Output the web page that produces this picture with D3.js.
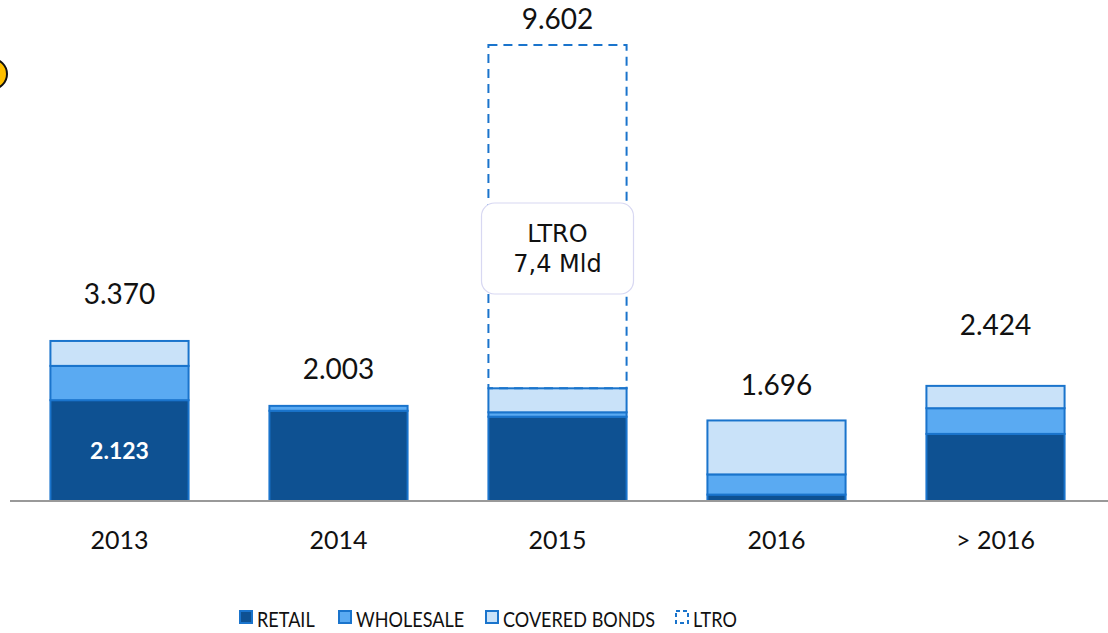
<!DOCTYPE html>
<html>
<head>
<meta charset="utf-8">
<script src="https://cdn.jsdelivr.net/npm/d3@7"></script>
<style>
  body { margin: 0; background: #fff; }
  svg { display: block; }
</style>
</head>
<body>
<div id="chart"></div>
<script>
const years = ["2013", "2014", "2015", "2016", "> 2016"];
const totalLabels = ["3.370", "2.003", "9.602", "1.696", "2.424"];
const retail = [2123, 1900, 1775, 135, 1413];
const wholesale = [722, 103, 93, 425, 541];
const covered = [525, 0, 505, 1136, 470];
const ltro = [0, 0, 7229, 0, 0];
const seriesNames = ["RETAIL", "WHOLESALE", "COVERED BONDS", "LTRO"];

const W = 1108, H = 633;
const baseY = 501;
const colors = { retail: "#0e5192", wholesale: "#5aaaf2", covered: "#c9e2f9" };
const edge = "#1a74cc";
// gap between bar top and its total label (labels were placed by hand in the original)
const labelGap = [37, 27, 16, 25, 51];

const svg = d3.select("#chart").append("svg").attr("width", W).attr("height", H);

const x = d3.scaleBand().domain(years).range([10, 1105]).paddingInner(0.36).paddingOuter(0.18);
const y = d3.scaleLinear().domain([0, 9602]).range([baseY, 45]);

const rows = years.map((yr, i) => ({ yr, i, retail: retail[i], wholesale: wholesale[i], covered: covered[i], ltro: ltro[i] }));
const stack = d3.stack().keys(["retail", "wholesale", "covered", "ltro"])(rows);

// yellow marker at the left edge
svg.append("circle").attr("cx", -8).attr("cy", 74).attr("r", 15)
  .attr("fill", "#ffc000").attr("stroke", "#111").attr("stroke-width", 2);

// solid stacked segments
stack.filter(s => s.key !== "ltro").forEach(s => {
  svg.append("g").selectAll("rect")
    .data(s.filter(d => d[1] - d[0] > 0))
    .enter().append("rect")
    .attr("x", d => x(d.data.yr) + 1)
    .attr("width", x.bandwidth() - 2)
    .attr("y", d => y(d[1]))
    .attr("height", d => y(d[0]) - y(d[1]))
    .attr("fill", colors[s.key])
    .attr("stroke", edge)
    .attr("stroke-width", 2);
});

// LTRO dashed box
const ltroS = stack.find(s => s.key === "ltro");
svg.append("g").selectAll("rect")
  .data(ltroS.filter(d => d[1] - d[0] > 0))
  .enter().append("rect")
  .attr("x", d => x(d.data.yr) + 1)
  .attr("width", x.bandwidth() - 2)
  .attr("y", d => y(d[1]))
  .attr("height", d => y(d[0]) - y(d[1]))
  .attr("fill", "none")
  .attr("stroke", edge)
  .attr("stroke-width", 2)
  .attr("stroke-dasharray", "9,6");

// LTRO call-out
const cx15 = x("2015") + x.bandwidth() / 2;
const box = svg.append("g");
box.append("rect").attr("x", cx15 - 76).attr("y", 203).attr("width", 152).attr("height", 91)
  .attr("rx", 13).attr("fill", "#fff").attr("stroke", "#d8d8f2").attr("stroke-width", 1.2);
box.append("text").attr("x", cx15).attr("y", 242).attr("text-anchor", "middle")
  .attr("font-family", "DejaVu Sans").attr("font-size", 24).attr("fill", "#111").text("LTRO");
box.append("text").attr("x", cx15).attr("y", 272).attr("text-anchor", "middle")
  .attr("font-family", "DejaVu Sans").attr("font-size", 24).attr("fill", "#111").text("7,4 Mld");

// totals above bars
const totals = rows.map(r => r.retail + r.wholesale + r.covered + r.ltro);
svg.append("g").selectAll("text")
  .data(years)
  .enter().append("text")
  .attr("x", d => x(d) + x.bandwidth() / 2)
  .attr("y", (d, i) => y(totals[i]) - labelGap[i])
  .attr("text-anchor", "middle")
  .attr("font-family", "Lato")
  .attr("font-size", 28)
  .attr("fill", "#111")
  .text((d, i) => totalLabels[i]);

// retail label inside 2013
svg.append("text")
  .attr("x", x("2013") + x.bandwidth() / 2)
  .attr("y", y(retail[0] / 2) + 8)
  .attr("text-anchor", "middle")
  .attr("font-family", "Lato").attr("font-weight", "bold")
  .attr("font-size", 23).attr("fill", "#fff")
  .text("2.123");

// axis
const axis = svg.append("g").attr("transform", `translate(0,${baseY})`)
  .call(d3.axisBottom(x).tickSize(0).tickPadding(30));
axis.select(".domain").attr("d", "M10,0H1108").attr("stroke", "#999").attr("stroke-width", 2);
axis.selectAll(".tick text").attr("font-family", "Lato").attr("font-size", 25).attr("fill", "#111");

// legend
const legendX = [239, 338, 485, 675];
const lg = svg.append("g").attr("transform", "translate(0,610)");
seriesNames.forEach((name, i) => {
  const g = lg.append("g").attr("transform", `translate(${legendX[i]},0)`);
  if (name === "LTRO") {
    g.append("rect").attr("x", 1).attr("y", 1).attr("width", 12).attr("height", 12)
      .attr("fill", "none").attr("stroke", edge).attr("stroke-width", 2).attr("stroke-dasharray", "4,3");
  } else {
    const key = ["retail", "wholesale", "covered"][i];
    g.append("rect").attr("x", 1).attr("y", 1).attr("width", 12).attr("height", 12)
      .attr("fill", colors[key]).attr("stroke", edge).attr("stroke-width", 2);
  }
  g.append("text").attr("transform", "translate(18,17) scale(0.86,1)")
    .attr("font-family", "Lato").attr("font-size", 21).attr("fill", "#111").text(name);
});
</script>
</body>
</html>
